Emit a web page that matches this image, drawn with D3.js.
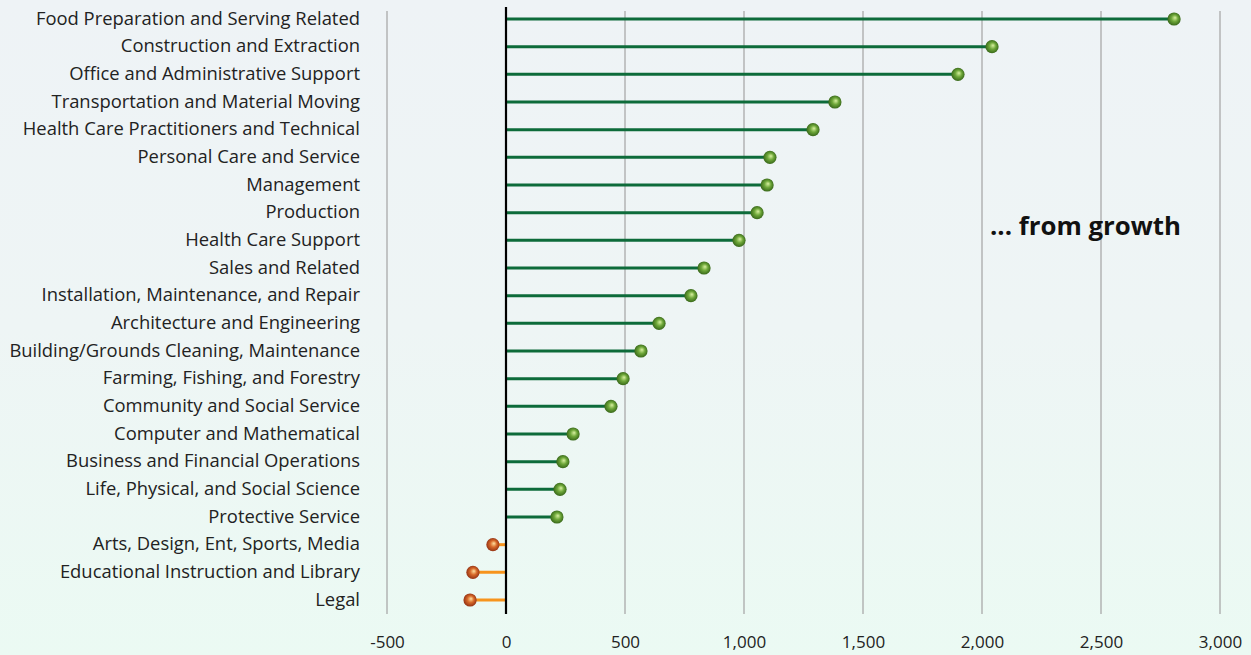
<!DOCTYPE html>
<html><head><meta charset="utf-8">
<script src="https://cdn.jsdelivr.net/npm/d3@7"></script>
<style>
html,body{margin:0;padding:0;}
body{width:1251px;height:655px;overflow:hidden;background:linear-gradient(180deg,#eef3f6 0%,#eef5f5 50%,#ebfaf3 100%);font-family:"Open Sans",sans-serif;}
</style></head>
<body>
<svg id="chart" width="1251" height="655"></svg>
<script>
const categories = [
"Food Preparation and Serving Related","Construction and Extraction","Office and Administrative Support",
"Transportation and Material Moving","Health Care Practitioners and Technical","Personal Care and Service",
"Management","Production","Health Care Support","Sales and Related","Installation, Maintenance, and Repair",
"Architecture and Engineering","Building/Grounds Cleaning, Maintenance","Farming, Fishing, and Forestry",
"Community and Social Service","Computer and Mathematical","Business and Financial Operations",
"Life, Physical, and Social Science","Protective Service","Arts, Design, Ent, Sports, Media",
"Educational Instruction and Library","Legal"];
const values = [2807,2042,1899,1382,1290,1109,1097,1055,979,832,777,643,567,492,441,282,239,227,214,-55,-139,-151];
const tickValues = [-500,0,500,1000,1500,2000,2500,3000];
const annotation = "... from growth";

const svg = d3.select("#chart");
const x = d3.scaleLinear().domain([-500,3000]).range([387,1220]);
const y = d3.scalePoint().domain(categories).range([19,600]);

const defs = svg.append("defs");
function grad(id, c0, c1, c2){
  const g = defs.append("radialGradient").attr("id",id).attr("cx","50%").attr("cy","50%").attr("r","55%").attr("fx","58%").attr("fy","40%");
  g.append("stop").attr("offset","0%").attr("stop-color",c0);
  g.append("stop").attr("offset","45%").attr("stop-color",c1);
  g.append("stop").attr("offset","100%").attr("stop-color",c2);
}
grad("gGreen","#d8f0a0","#6fa83a","#2f5e14");
grad("gOrange","#ffe0a0","#d86a2a","#8a2a10");

// gridlines
svg.append("g").selectAll("line").data(tickValues.filter(d=>d!==0)).join("line")
  .attr("x1",d=>x(d)).attr("x2",d=>x(d)).attr("y1",11).attr("y2",614)
  .attr("stroke","#a9a9a9").attr("stroke-width",1.3);

// axis tick labels
const fmt = d3.format(",");
const xAxis = d3.axisBottom(x).tickValues(tickValues).tickSize(0).tickPadding(0)
  .tickFormat(d=>fmt(d).replace("\u2212","-"));
const ax = svg.append("g").attr("transform","translate(0,636)").call(xAxis);
ax.select(".domain").remove();
ax.selectAll("text").attr("font-family","Open Sans, sans-serif").attr("font-size",17).attr("fill","#222");

// stems
svg.append("g").selectAll("line").data(values).join("line")
  .attr("x1",x(0)).attr("x2",d=>x(d))
  .attr("y1",(d,i)=>y(categories[i])).attr("y2",(d,i)=>y(categories[i]))
  .attr("stroke",d=>d>=0?"#0d6b3a":"#f7941d").attr("stroke-width",3);

// zero line
svg.append("line").attr("x1",x(0)).attr("x2",x(0)).attr("y1",7).attr("y2",614)
  .attr("stroke","#000").attr("stroke-width",2.2);

// dots
svg.append("g").selectAll("circle").data(values).join("circle")
  .attr("cx",d=>x(d)).attr("cy",(d,i)=>y(categories[i])).attr("r",6.6)
  .attr("fill",d=>d>=0?"url(#gGreen)":"url(#gOrange)");

// category labels
svg.append("g").selectAll("text").data(categories).join("text")
  .attr("x",360).attr("y",d=>y(d)).attr("dy","0.3em").attr("text-anchor","end")
  .attr("font-family","Open Sans, sans-serif").attr("font-size",18.4).attr("fill","#222")
  .text(d=>d);

// annotation
svg.append("text").attr("x",990).attr("y",226).attr("dy","0.35em")
  .attr("font-family","Open Sans, sans-serif").attr("font-weight","bold").attr("font-size",25.8).attr("fill","#111")
  .text(annotation);
</script>
</body></html>
